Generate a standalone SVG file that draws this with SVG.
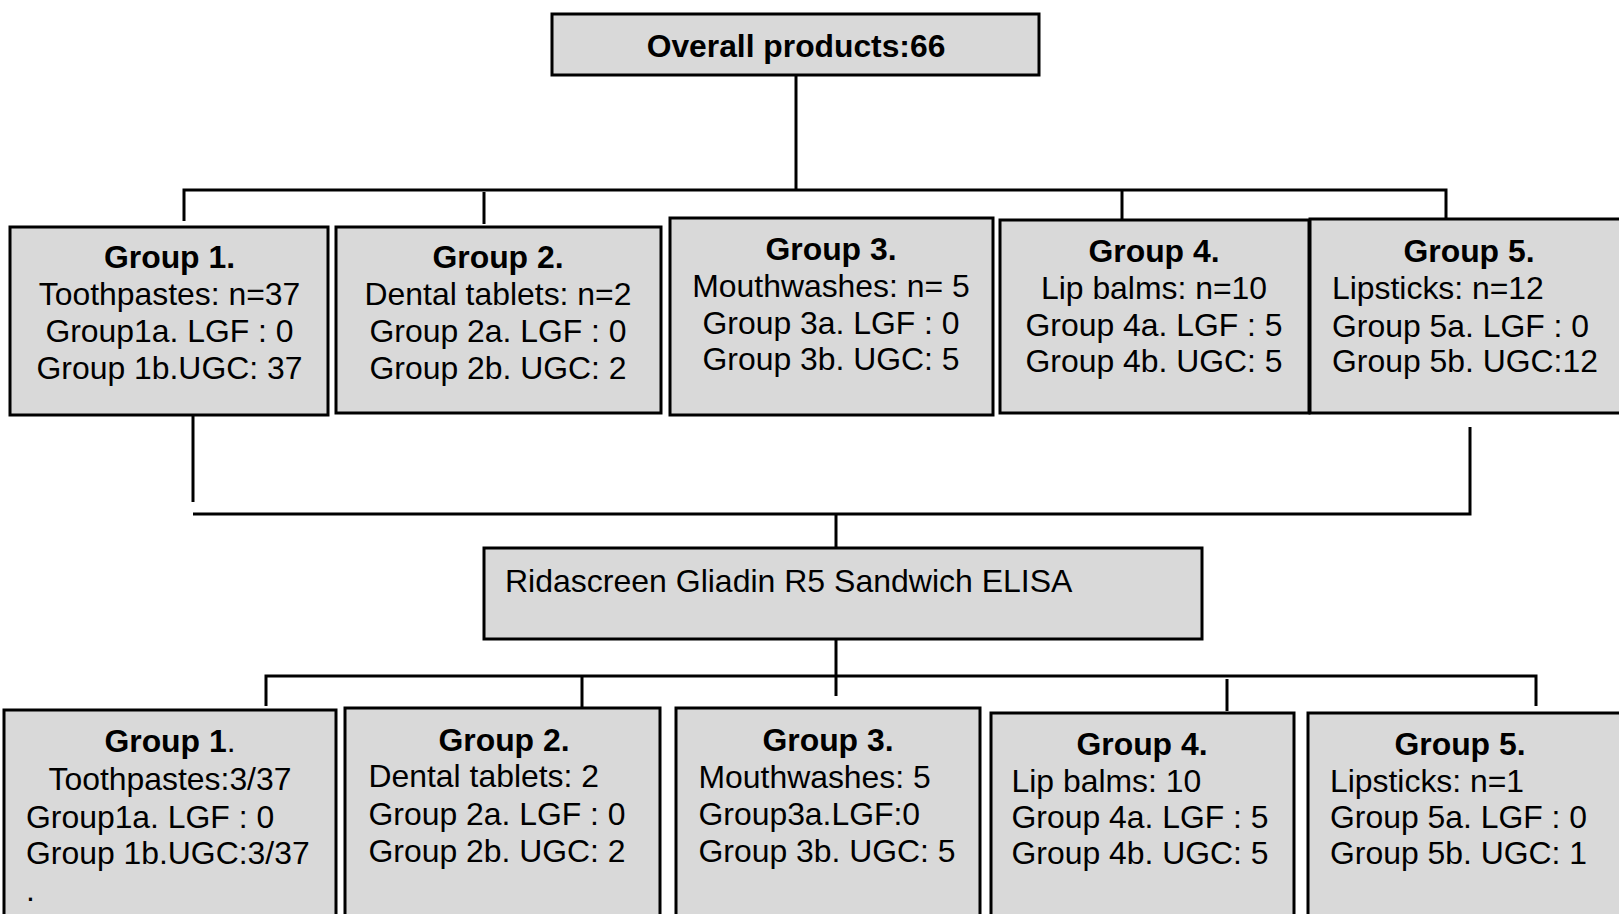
<svg xmlns="http://www.w3.org/2000/svg" width="1619" height="914" viewBox="0 0 1619 914">
  <style>
    .box { fill: #d9d9d9; stroke: #000; stroke-width: 3; }
    .wire { fill: none; stroke: #000; stroke-width: 3; }
    text { font-family: "Liberation Sans", Arial, Helvetica, sans-serif; font-size: 31.9px; fill: #000; }
    .m { text-anchor: middle; }
    .b { font-weight: bold; }
    .title { font-size: 31.8px; }
    .assay { font-size: 32px; }
  </style>

  <rect width="1619" height="914" fill="#fff"/>

  <!-- connectors -->
  <g id="connectors" class="wire">
    <path d="M796,75 V190"/>
    <path d="M184,221 V190 H1446 V218"/>
    <path d="M484,192 V224"/>
    <path d="M1122,190 V220"/>
    <path d="M193,416 V502"/>
    <path d="M193,514 H1470 V427"/>
    <path d="M836,514 V547"/>
    <path d="M836,640 V696"/>
    <path d="M266,706 V676 H1536 V706"/>
    <path d="M582,676 V707"/>
    <path d="M1227,679 V711"/>
  </g>

  <!-- root -->
  <g id="overall">
    <rect class="box" x="552" y="14" width="487" height="61"/>
    <text class="m b title" x="796" y="57">Overall products:66</text>
  </g>

  <!-- product groups -->
  <g id="group1">
    <rect class="box" x="10" y="227" width="318" height="188"/>
    <text class="m b" x="169.5" y="268">Group 1.</text>
    <text class="m" x="169.5" y="305">Toothpastes: n=37</text>
    <text class="m" x="169.5" y="342">Group1a. LGF : 0</text>
    <text class="m" x="169.5" y="379">Group 1b.UGC: 37</text>
  </g>

  <g id="group2">
    <rect class="box" x="336" y="227" width="325" height="186"/>
    <text class="m b" x="498" y="268">Group 2.</text>
    <text class="m" x="498" y="305">Dental tablets: n=2</text>
    <text class="m" x="498" y="342">Group 2a. LGF : 0</text>
    <text class="m" x="498" y="379">Group 2b. UGC: 2</text>
  </g>

  <g id="group3">
    <rect class="box" x="670" y="218" width="323" height="197"/>
    <text class="m b" x="831" y="260">Group 3.</text>
    <text class="m" x="831" y="297">Mouthwashes: n= 5</text>
    <text class="m" x="831" y="334">Group 3a. LGF : 0</text>
    <text class="m" x="831" y="370">Group 3b. UGC: 5</text>
  </g>

  <g id="group4">
    <rect class="box" x="1000" y="220" width="309" height="193"/>
    <text class="m b" x="1154" y="262">Group 4.</text>
    <text class="m" x="1154" y="299">Lip balms: n=10</text>
    <text class="m" x="1154" y="336">Group 4a. LGF : 5</text>
    <text class="m" x="1154" y="372">Group 4b. UGC: 5</text>
  </g>

  <g id="group5">
    <rect class="box" x="1310" y="219" width="320" height="194"/>
    <text class="m b" x="1469" y="262">Group 5.</text>
    <text x="1332" y="299">Lipsticks: n=12</text>
    <text x="1332" y="337">Group 5a. LGF : 0</text>
    <text x="1332" y="372">Group 5b. UGC:12</text>
  </g>

  <!-- assay -->
  <g id="elisa">
    <rect class="box" x="484" y="548" width="718" height="91"/>
    <text class="assay" x="505" y="592">Ridascreen Gliadin R5 Sandwich ELISA</text>
  </g>

  <!-- results per group -->
  <g id="result1">
    <rect class="box" x="4" y="710" width="332" height="220"/>
    <text class="m" x="170" y="752"><tspan class="b">Group 1</tspan>.</text>
    <text class="m" x="170" y="790">Toothpastes:3/37</text>
    <text x="26" y="828">Group1a. LGF : 0</text>
    <text x="26" y="864">Group 1b.UGC:3/37</text>
    <text x="26" y="901">.</text>
  </g>

  <g id="result2">
    <rect class="box" x="345" y="708" width="315" height="222"/>
    <text class="m b" x="504" y="751">Group 2.</text>
    <text x="368.5" y="787">Dental tablets: 2</text>
    <text x="368.5" y="825">Group 2a. LGF : 0</text>
    <text x="368.5" y="862">Group 2b. UGC: 2</text>
  </g>

  <g id="result3">
    <rect class="box" x="676" y="708" width="304" height="222"/>
    <text class="m b" x="828" y="751">Group 3.</text>
    <text x="698.5" y="788">Mouthwashes: 5</text>
    <text x="698.5" y="825">Group3a.LGF:0</text>
    <text x="698.5" y="862">Group 3b. UGC: 5</text>
  </g>

  <g id="result4">
    <rect class="box" x="991" y="713" width="303" height="217"/>
    <text class="m b" x="1142" y="755">Group 4.</text>
    <text x="1011.5" y="792">Lip balms: 10</text>
    <text x="1011.5" y="828">Group 4a. LGF : 5</text>
    <text x="1011.5" y="864">Group 4b. UGC: 5</text>
  </g>

  <g id="result5">
    <rect class="box" x="1308" y="713" width="322" height="217"/>
    <text class="m b" x="1460" y="755">Group 5.</text>
    <text x="1330" y="792">Lipsticks: n=1</text>
    <text x="1330" y="828">Group 5a. LGF : 0</text>
    <text x="1330" y="864">Group 5b. UGC: 1</text>
  </g>
</svg>
